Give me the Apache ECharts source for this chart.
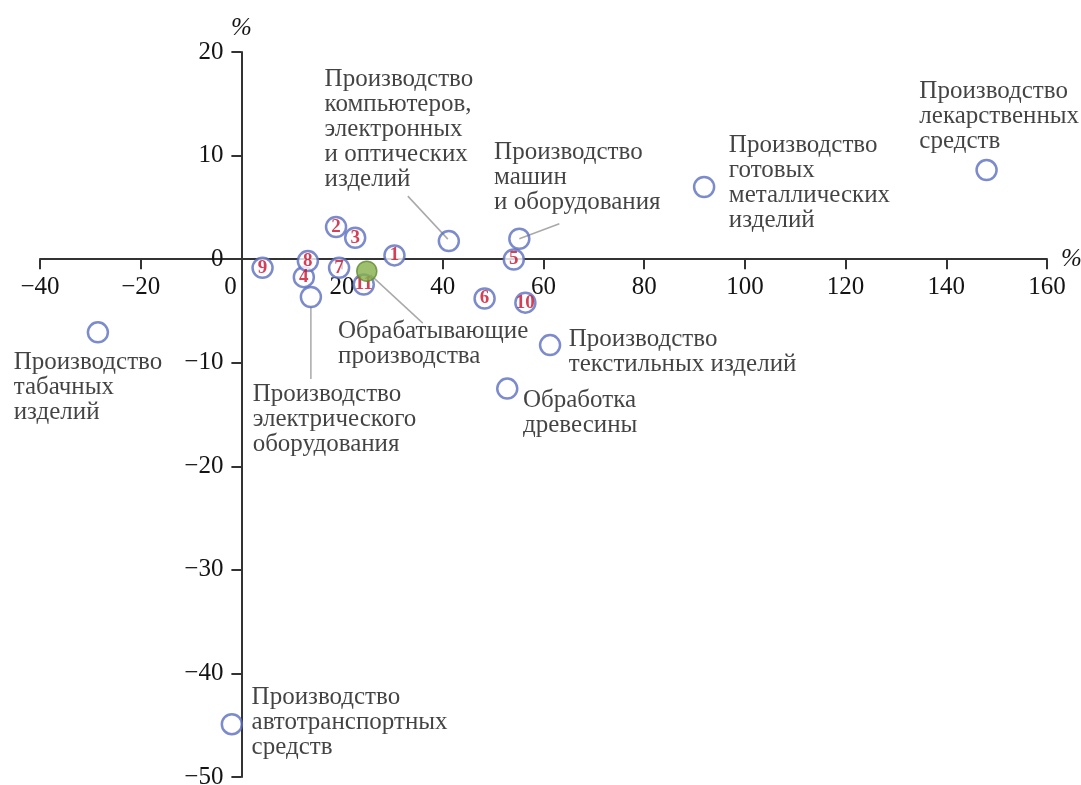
<!DOCTYPE html>
<html>
<head>
<meta charset="utf-8">
<script src="https://cdn.jsdelivr.net/npm/echarts@6/dist/echarts.min.js"></script>
<style>
  html, body { margin: 0; padding: 0; background: #fff; }
  #chart { width: 1081px; height: 785px; }
</style>
</head>
<body>
<div id="chart"></div>
<script>
// numbered industries (circles with red numbers)
const numLabels = ['1', '2', '3', '4', '5', '6', '7', '8', '9', '10', '11'];
const numX = [30.4, 18.8, 22.6, 12.4, 54.1, 48.3, 19.4, 13.2, 4.2, 56.4, 24.3];
const numY = [0.36, 3.1, 2.06, -1.74, -0.03, -3.8, -0.84, -0.19, -0.84, -4.2, -2.45];

// named industries
const catNames = [
  'Производство\nкомпьютеров,\nэлектронных\nи оптических\nизделий',
  'Производство\nмашин\nи оборудования',
  'Производство\nготовых\nметаллических\nизделий',
  'Производство\nлекарственных\nсредств',
  'Производство\nтабачных\nизделий',
  'Производство\nэлектрического\nоборудования',
  'Производство\nтекстильных изделий',
  'Обработка\nдревесины',
  'Производство\nавтотранспортных\nсредств'
];
const catX = [41.2, 55.2, 91.9, 148.0, -28.5, 13.8, 61.3, 52.8, -1.9];
const catY = [1.74, 1.97, 6.97, 8.6, -7.07, -3.65, -8.3, -12.5, -44.9];

// manufacturing total (green)
const totalName = 'Обрабатывающие\nпроизводства';
const totalX = [24.9];
const totalY = [-1.16];

// axis ranges
const xMin = -40, xMax = 160, xStep = 20;
const yMin = -50, yMax = 20, yStep = 10;

// label placement: offset from point centre to label's top-left, px
const labelOffsets = [
  [-123, -173], [-24, -98], [26, -53], [-66, -90], [-83, 19],
  [-57, 86], [20, -17], [17, 1], [21, -38]
];
const totalLabelOffset = [-28, 49];
// leader lines: [startDx, startDy, endDx, endDy] for selected named points
const leaders = { 0: [-1, -2, -41, -45], 1: [0, 0, 40, -15], 5: [0, 10, 0, 82] };
const totalLeader = [4, 4, 56, 52];

const W = 1081, H = 785;
const G = { left: 40, right: 34, top: 52, bottom: 8 };
const SYM = 20;
const FONT = 'Liberation Serif';
const INK = '#141414';
const textStyle = { fontFamily: FONT, fontSize: 25, lineHeight: 25, color: INK };

// axes cross at zero: shift each axis from the grid edge to the other axis' zero
const gw = W - G.left - G.right, gh = H - G.top - G.bottom;
const xAxisOffset = -(gh * (0 - yMin) / (yMax - yMin));
const yAxisOffset = -(gw * (0 - xMin) / (xMax - xMin));

function minus(v) { return String(v).replace('-', '\u2212'); }

const leaderData = [];
Object.keys(leaders).forEach(function (k) {
  const i = +k;
  leaderData.push([catX[i], catY[i]].concat(leaders[i]));
});
leaderData.push([totalX[0], totalY[0]].concat(totalLeader));

const option = {
  animation: false,
  backgroundColor: '#fff',
  grid: { left: G.left, right: G.right, top: G.top, bottom: G.bottom, containLabel: false, outerBoundsMode: 'none' },
  xAxis: {
    type: 'value', min: xMin, max: xMax, interval: xStep,
    position: 'bottom', offset: xAxisOffset,
    name: '%', nameLocation: 'end', nameGap: 14,
    nameTextStyle: { fontFamily: FONT, fontSize: 25, fontStyle: 'italic', color: INK, padding: [0, 0, 8, 0] },
    axisLine: { onZero: false, lineStyle: { color: '#333', width: 2 } },
    axisTick: { length: 10, lineStyle: { color: '#333', width: 2 } },
    splitLine: { show: false },
    axisLabel: {
      margin: 16, fontFamily: FONT, fontSize: 25, color: INK,
      formatter: function (v) { return v === 0 ? '{z|0}' : minus(v); },
      rich: { z: { fontFamily: FONT, fontSize: 25, color: INK, padding: [0, 22, 0, 0] } }
    }
  },
  yAxis: {
    type: 'value', min: yMin, max: yMax, interval: yStep,
    position: 'left', offset: yAxisOffset,
    name: '%', nameLocation: 'end', nameGap: 11,
    nameTextStyle: { fontFamily: FONT, fontSize: 25, fontStyle: 'italic', color: INK, align: 'center' },
    axisLine: { onZero: false, lineStyle: { color: '#333', width: 2 } },
    axisTick: { length: 10, lineStyle: { color: '#333', width: 2 } },
    splitLine: { show: false },
    axisLabel: { margin: 18, fontFamily: FONT, fontSize: 25, color: INK, formatter: minus }
  },
  series: [
    {
      type: 'custom',
      coordinateSystem: 'cartesian2d',
      z: 1,
      silent: true,
      data: leaderData,
      renderItem: function (params, api) {
        const p = api.coord([api.value(0), api.value(1)]);
        return {
          type: 'line',
          shape: {
            x1: p[0] + api.value(2), y1: p[1] + api.value(3),
            x2: p[0] + api.value(4), y2: p[1] + api.value(5)
          },
          style: { stroke: '#a9a9a9', lineWidth: 1.5 }
        };
      }
    },
    {
      type: 'scatter',
      z: 2,
      symbol: 'circle',
      symbolSize: SYM,
      itemStyle: { color: 'rgba(255,255,255,0)', borderColor: '#5b6ebe', borderWidth: 2.5 },
      data: catX.map(function (x, i) {
        const o = labelOffsets[i];
        return {
          value: [x, catY[i]],
          label: {
            show: true,
            position: [o[0] + SYM / 2, o[1] + SYM / 2],
            align: 'left', verticalAlign: 'top',
            formatter: catNames[i],
            fontFamily: textStyle.fontFamily, fontSize: textStyle.fontSize,
            lineHeight: textStyle.lineHeight, color: textStyle.color
          }
        };
      })
    },
    {
      type: 'scatter',
      z: 3,
      symbol: 'circle',
      symbolSize: SYM,
      itemStyle: { color: '#fff', borderColor: '#5b6ebe', borderWidth: 2.5 },
      label: {
        show: true, position: 'inside',
        formatter: function (p) { return numLabels[p.dataIndex]; },
        fontFamily: FONT, fontSize: 19, fontWeight: 'bold', color: '#c8102e'
      },
      data: numX.map(function (x, i) { return [x, numY[i]]; })
    },
    {
      type: 'scatter',
      z: 4,
      symbol: 'circle',
      symbolSize: SYM,
      itemStyle: { color: '#86b04a', borderColor: '#5f8a30', borderWidth: 1.5 },
      label: {
        show: true,
        position: [totalLabelOffset[0] + SYM / 2, totalLabelOffset[1] + SYM / 2],
        align: 'left', verticalAlign: 'top',
        formatter: totalName,
        fontFamily: textStyle.fontFamily, fontSize: textStyle.fontSize,
        lineHeight: textStyle.lineHeight, color: textStyle.color
      },
      data: totalX.map(function (x, i) { return [x, totalY[i]]; })
    }
  ]
};

const chart = echarts.init(document.getElementById('chart'));
chart.setOption(option);
</script>
</body>
</html>
